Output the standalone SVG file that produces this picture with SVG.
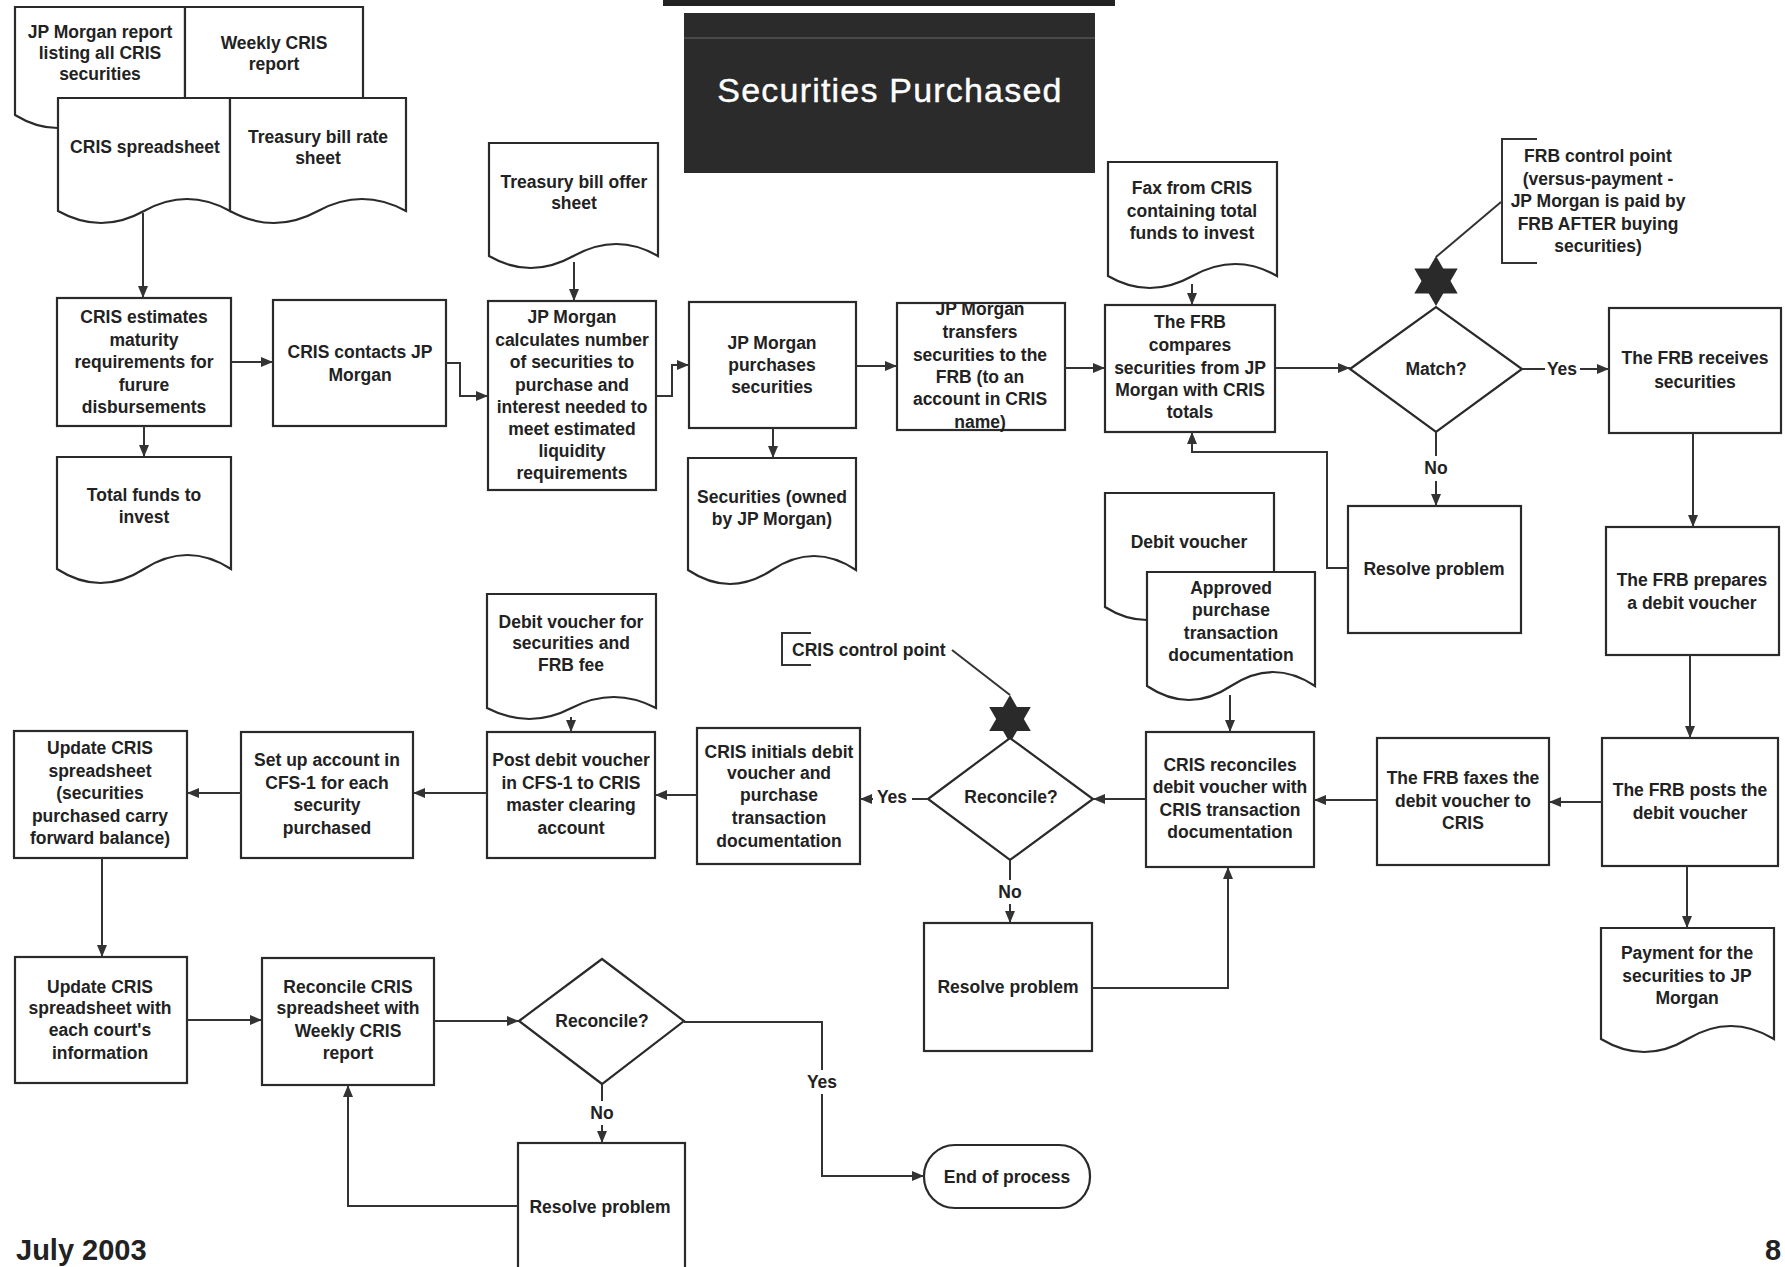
<svg xmlns="http://www.w3.org/2000/svg" width="1785" height="1267" viewBox="0 0 1785 1267">
<style>
.s{fill:#fff;stroke:#2a2a2a;stroke-width:2.2}
.c{fill:none;stroke:#333;stroke-width:2}
.t{font-family:"Liberation Sans",Arial,sans-serif;font-weight:bold;font-size:17.5px;fill:#222;text-anchor:middle;dominant-baseline:central}
.ts{text-anchor:start}
.star{fill:#2a2a2a}
</style>
<defs>
<marker id="ah" viewBox="0 0 12 10" refX="12" refY="5" markerWidth="12" markerHeight="10" markerUnits="userSpaceOnUse" orient="auto">
<path d="M0,0 L12,5 L0,10 z" fill="#333"/>
</marker>
<clipPath id="clipTransfers"><rect x="897" y="304" width="168" height="130"/></clipPath>
</defs>
<rect width="1785" height="1267" fill="#fff"/>

<g id="title">
<rect x="663" y="0" width="452" height="6" fill="#222"/>
<rect x="684" y="13" width="411" height="160" fill="#2b2b2b"/>
<line x1="684" y1="38" x2="1095" y2="38" stroke="#555" stroke-width="1.5"/>
<text x="890" y="90" font-family="Liberation Sans, Arial, sans-serif" font-size="34" letter-spacing="1.2" fill="#fff" stroke="#fff" stroke-width="0.4" text-anchor="middle" dominant-baseline="central">Securities Purchased</text>
</g>

<g id="doc-jpm-report">
<path class="s" d="M15 7 H185 V115 Q142.5 89 100 115 T15 115 Z"/>
<text class="t"><tspan x="100" y="32">JP Morgan report</tspan><tspan x="100" y="53">listing all CRIS</tspan><tspan x="100" y="74">securities</tspan></text>
</g>
<g id="doc-weekly-report">
<path class="s" d="M185 7 H363 V112 Q318.5 88 274 112 T185 112 Z"/>
<text class="t"><tspan x="274" y="43">Weekly CRIS</tspan><tspan x="274" y="64">report</tspan></text>
</g>
<g id="doc-cris-spreadsheet">
<path class="s" d="M58 98 H230 V211 Q187 187 144 211 T58 211 Z"/>
<text class="t" x="145" y="147">CRIS spreadsheet</text>
</g>
<g id="doc-tbill-rate">
<path class="s" d="M230 98 H406 V211 Q362 187 318 211 T230 211 Z"/>
<text class="t"><tspan x="318" y="137">Treasury bill rate</tspan><tspan x="318" y="158">sheet</tspan></text>
</g>
<g id="doc-tbill-offer">
<path class="s" d="M489 143 H658 V256 Q616.75 232 573.5 256 T489 256 Z"/>
<text class="t"><tspan x="574" y="182">Treasury bill offer</tspan><tspan x="574" y="203">sheet</tspan></text>
</g>
<g id="doc-fax">
<path class="s" d="M1108 162 H1277 V276 Q1235.75 252 1192.5 276 T1108 276 Z"/>
<text class="t"><tspan x="1192" y="188">Fax from CRIS</tspan><tspan x="1192" y="211">containing total</tspan><tspan x="1192" y="233">funds to invest</tspan></text>
</g>
<g id="frb-control-point">
<path class="c" d="M1537 139 H1502 V263 H1537"/>
<text class="t"><tspan x="1598" y="156">FRB control point</tspan><tspan x="1598" y="179">(versus-payment -</tspan><tspan x="1598" y="201">JP Morgan is paid by</tspan><tspan x="1598" y="224">FRB AFTER buying</tspan><tspan x="1598" y="246">securities)</tspan></text>
<polygon class="star" points="1436,256 1457.7,293.5 1414.3,293.5"/>
<polygon class="star" points="1436,306 1457.7,268.5 1414.3,268.5"/>
</g>

<g id="n-cris-estimates">
<rect class="s" x="57" y="298" width="174" height="128"/>
<text class="t"><tspan x="144" y="317">CRIS estimates</tspan><tspan x="144" y="340">maturity</tspan><tspan x="144" y="362">requirements for</tspan><tspan x="144" y="385">furure</tspan><tspan x="144" y="407">disbursements</tspan></text>
</g>
<g id="n-cris-contacts">
<rect class="s" x="273" y="300" width="173" height="126"/>
<text class="t"><tspan x="360" y="352">CRIS contacts JP</tspan><tspan x="360" y="375">Morgan</tspan></text>
</g>
<g id="n-calculates">
<rect class="s" x="488" y="301" width="168" height="189"/>
<text class="t"><tspan x="572" y="317">JP Morgan</tspan><tspan x="572" y="340">calculates number</tspan><tspan x="572" y="362">of securities to</tspan><tspan x="572" y="385">purchase and</tspan><tspan x="572" y="407">interest needed to</tspan><tspan x="572" y="429">meet estimated</tspan><tspan x="572" y="451">liquidity</tspan><tspan x="572" y="473">requirements</tspan></text>
</g>
<g id="n-purchases">
<rect class="s" x="689" y="302" width="167" height="126"/>
<text class="t"><tspan x="772" y="343">JP Morgan</tspan><tspan x="772" y="365">purchases</tspan><tspan x="772" y="387">securities</tspan></text>
</g>
<g id="n-transfers">
<rect class="s" x="897" y="303" width="168" height="127"/>
<text class="t" clip-path="url(#clipTransfers)"><tspan x="980" y="309">JP Morgan</tspan><tspan x="980" y="332">transfers</tspan><tspan x="980" y="355">securities to the</tspan><tspan x="980" y="377">FRB (to an</tspan><tspan x="980" y="399">account in CRIS</tspan><tspan x="980" y="422">name)</tspan></text>
</g>
<g id="n-frb-compares">
<rect class="s" x="1105" y="305" width="170" height="127"/>
<text class="t"><tspan x="1190" y="322">The FRB</tspan><tspan x="1190" y="345">compares</tspan><tspan x="1190" y="368">securities from JP</tspan><tspan x="1190" y="390">Morgan with CRIS</tspan><tspan x="1190" y="412">totals</tspan></text>
</g>
<g id="n-match">
<polygon class="s" points="1350,369 1436,307 1522,369 1436,432"/>
<text class="t" x="1436" y="369">Match?</text>
</g>
<g id="n-frb-receives">
<rect class="s" x="1609" y="308" width="172" height="125"/>
<text class="t"><tspan x="1695" y="358">The FRB receives</tspan><tspan x="1695" y="382">securities</tspan></text>
</g>
<g id="doc-total-funds">
<path class="s" d="M57 457 H231 V569 Q187.5 541 144 569 T57 569 Z"/>
<text class="t"><tspan x="144" y="495">Total funds to</tspan><tspan x="144" y="517">invest</tspan></text>
</g>
<g id="doc-securities-owned">
<path class="s" d="M688 458 H856 V570 Q814 542 772 570 T688 570 Z"/>
<text class="t"><tspan x="772" y="497">Securities (owned</tspan><tspan x="772" y="519">by JP Morgan)</tspan></text>
</g>
<g id="n-resolve-1">
<rect class="s" x="1348" y="506" width="173" height="127"/>
<text class="t" x="1434" y="569">Resolve problem</text>
</g>
<g id="n-frb-prepares">
<rect class="s" x="1606" y="527" width="173" height="128"/>
<text class="t"><tspan x="1692" y="580">The FRB prepares</tspan><tspan x="1692" y="603">a debit voucher</tspan></text>
</g>
<g id="doc-debit-voucher">
<path class="s" d="M1105 493 H1274 V607 Q1232.75 581 1189.5 607 T1105 607 Z"/>
<text class="t" x="1189" y="542">Debit voucher</text>
</g>
<g id="doc-approved">
<path class="s" d="M1147 572 H1315 V686 Q1273 658 1231 686 T1147 686 Z"/>
<text class="t"><tspan x="1231" y="588">Approved</tspan><tspan x="1231" y="610">purchase</tspan><tspan x="1231" y="633">transaction</tspan><tspan x="1231" y="655">documentation</tspan></text>
</g>
<g id="doc-debit-voucher-fee">
<path class="s" d="M487 594 H656 V708 Q613.75 686 571.5 708 T487 708 Z"/>
<text class="t"><tspan x="571" y="622">Debit voucher for</tspan><tspan x="571" y="643">securities and</tspan><tspan x="571" y="665">FRB fee</tspan></text>
</g>
<g id="cris-control-point">
<path class="c" d="M811 633 H782 V665 H811"/>
<text class="t ts" x="792" y="650">CRIS control point</text>
<polygon class="star" points="1010,695 1030.8,731 989.2,731"/>
<polygon class="star" points="1010,743 1030.8,707 989.2,707"/>
</g>
<g id="n-cris-reconciles">
<rect class="s" x="1146" y="732" width="168" height="135"/>
<text class="t"><tspan x="1230" y="765">CRIS reconciles</tspan><tspan x="1230" y="787">debit voucher with</tspan><tspan x="1230" y="810">CRIS transaction</tspan><tspan x="1230" y="832">documentation</tspan></text>
</g>
<g id="n-frb-faxes">
<rect class="s" x="1377" y="738" width="172" height="127"/>
<text class="t"><tspan x="1463" y="778">The FRB faxes the</tspan><tspan x="1463" y="801">debit voucher to</tspan><tspan x="1463" y="823">CRIS</tspan></text>
</g>
<g id="n-frb-posts">
<rect class="s" x="1602" y="738" width="176" height="128"/>
<text class="t"><tspan x="1690" y="790">The FRB posts the</tspan><tspan x="1690" y="813">debit voucher</tspan></text>
</g>
<g id="n-reconcile-1">
<polygon class="s" points="928,799 1010,738 1093,799 1010,860"/>
<text class="t" x="1011" y="797">Reconcile?</text>
</g>
<g id="n-cris-initials">
<rect class="s" x="697" y="728" width="163" height="136"/>
<text class="t"><tspan x="779" y="752">CRIS initials debit</tspan><tspan x="779" y="773">voucher and</tspan><tspan x="779" y="795">purchase</tspan><tspan x="779" y="818">transaction</tspan><tspan x="779" y="841">documentation</tspan></text>
</g>
<g id="n-post-debit">
<rect class="s" x="487" y="732" width="168" height="126"/>
<text class="t"><tspan x="571" y="760">Post debit voucher</tspan><tspan x="571" y="783">in CFS-1 to CRIS</tspan><tspan x="571" y="805">master clearing</tspan><tspan x="571" y="828">account</tspan></text>
</g>
<g id="n-setup-account">
<rect class="s" x="241" y="732" width="172" height="126"/>
<text class="t"><tspan x="327" y="760">Set up account in</tspan><tspan x="327" y="783">CFS-1 for each</tspan><tspan x="327" y="805">security</tspan><tspan x="327" y="828">purchased</tspan></text>
</g>
<g id="n-update-1">
<rect class="s" x="14" y="731" width="173" height="127"/>
<text class="t"><tspan x="100" y="748">Update CRIS</tspan><tspan x="100" y="771">spreadsheet</tspan><tspan x="100" y="793">(securities</tspan><tspan x="100" y="816">purchased carry</tspan><tspan x="100" y="838">forward balance)</tspan></text>
</g>
<g id="n-resolve-2">
<rect class="s" x="924" y="923" width="168" height="128"/>
<text class="t" x="1008" y="987">Resolve problem</text>
</g>
<g id="doc-payment">
<path class="s" d="M1601 928 H1774 V1039 Q1730.75 1013 1687.5 1039 T1601 1039 Z"/>
<text class="t"><tspan x="1687" y="953">Payment for the</tspan><tspan x="1687" y="976">securities to JP</tspan><tspan x="1687" y="998">Morgan</tspan></text>
</g>
<g id="n-update-2">
<rect class="s" x="15" y="957" width="172" height="126"/>
<text class="t"><tspan x="100" y="987">Update CRIS</tspan><tspan x="100" y="1008">spreadsheet with</tspan><tspan x="100" y="1030">each court's</tspan><tspan x="100" y="1053">information</tspan></text>
</g>
<g id="n-reconcile-cris">
<rect class="s" x="262" y="958" width="172" height="127"/>
<text class="t"><tspan x="348" y="987">Reconcile CRIS</tspan><tspan x="348" y="1008">spreadsheet with</tspan><tspan x="348" y="1031">Weekly CRIS</tspan><tspan x="348" y="1053">report</tspan></text>
</g>
<g id="n-reconcile-2">
<polygon class="s" points="519,1021 602,959 684,1021 602,1084"/>
<text class="t" x="602" y="1021">Reconcile?</text>
</g>
<g id="n-resolve-3">
<rect class="s" x="518" y="1143" width="167" height="132"/>
<text class="t" x="600" y="1207">Resolve problem</text>
</g>
<g id="n-end">
<rect class="s" x="924" y="1145" width="166" height="63" rx="31" ry="31"/>
<text class="t" x="1007" y="1177">End of process</text>
</g>

<g id="connectors">
<path class="c" d="M143 213 V298" marker-end="url(#ah)"/>
<path class="c" d="M144 426 V457" marker-end="url(#ah)"/>
<path class="c" d="M231 362 H273" marker-end="url(#ah)"/>
<path class="c" d="M446 363 H460 V396 H488" marker-end="url(#ah)"/>
<path class="c" d="M574 262 V301" marker-end="url(#ah)"/>
<path class="c" d="M656 396 H672 V365 H689" marker-end="url(#ah)"/>
<path class="c" d="M773 428 V458" marker-end="url(#ah)"/>
<path class="c" d="M856 366 H897" marker-end="url(#ah)"/>
<path class="c" d="M1065 368 H1105" marker-end="url(#ah)"/>
<path class="c" d="M1192 284 V305" marker-end="url(#ah)"/>
<path class="c" d="M1275 368 H1350" marker-end="url(#ah)"/>
<path class="c" d="M1522 369 H1545"/>
<path class="c" d="M1580 369 H1609" marker-end="url(#ah)"/>
<path class="c" d="M1436 432 V456"/>
<path class="c" d="M1436 481 V506" marker-end="url(#ah)"/>
<path class="c" d="M1348 568 H1327 V452 H1192 V432" marker-end="url(#ah)"/>
<path class="c" d="M1693 433 V527" marker-end="url(#ah)"/>
<path class="c" d="M1690 655 V738" marker-end="url(#ah)"/>
<path class="c" d="M1602 802 H1549" marker-end="url(#ah)"/>
<path class="c" d="M1377 800 H1314" marker-end="url(#ah)"/>
<path class="c" d="M1230 695 V732" marker-end="url(#ah)"/>
<path class="c" d="M1146 799 H1093" marker-end="url(#ah)"/>
<path class="c" d="M928 799 H912"/>
<path class="c" d="M873 799 H860" marker-end="url(#ah)"/>
<path class="c" d="M1010 860 V880"/>
<path class="c" d="M1010 904 V923" marker-end="url(#ah)"/>
<path class="c" d="M1092 988 H1228 V867" marker-end="url(#ah)"/>
<path class="c" d="M697 795 H655" marker-end="url(#ah)"/>
<path class="c" d="M571 717 V732" marker-end="url(#ah)"/>
<path class="c" d="M487 793 H413" marker-end="url(#ah)"/>
<path class="c" d="M241 793 H187" marker-end="url(#ah)"/>
<path class="c" d="M102 858 V957" marker-end="url(#ah)"/>
<path class="c" d="M187 1020 H262" marker-end="url(#ah)"/>
<path class="c" d="M434 1021 H519" marker-end="url(#ah)"/>
<path class="c" d="M602 1084 V1101"/>
<path class="c" d="M602 1125 V1143" marker-end="url(#ah)"/>
<path class="c" d="M518 1206 H348 V1085" marker-end="url(#ah)"/>
<path class="c" d="M684 1022 H822 V1070"/>
<path class="c" d="M822 1094 V1176 H924" marker-end="url(#ah)"/>
<path class="c" d="M1687 866 V928" marker-end="url(#ah)"/>
<path class="c" d="M1436 257 L1501 202"/>
<path class="c" d="M952 650 L1010 695"/>
<text class="t" x="1562" y="369">Yes</text>
<text class="t" x="1436" y="468">No</text>
<text class="t" x="892" y="797">Yes</text>
<text class="t" x="1010" y="892">No</text>
<text class="t" x="602" y="1113">No</text>
<text class="t" x="822" y="1082">Yes</text>
</g>

<g id="footer">
<text x="16" y="1260" font-family="Liberation Sans, Arial, sans-serif" font-weight="bold" font-size="29" fill="#222">July 2003</text>
<text x="1765" y="1260" font-family="Liberation Sans, Arial, sans-serif" font-weight="bold" font-size="29" fill="#222">8</text>
</g>
</svg>
